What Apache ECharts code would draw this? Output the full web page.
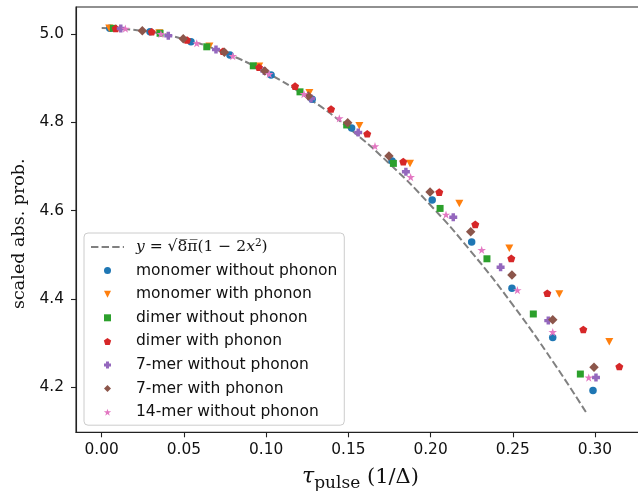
<!DOCTYPE html>
<html><head><meta charset="utf-8">
<script src="https://cdn.jsdelivr.net/npm/echarts@6/dist/echarts.min.js"></script>
<style>html,body{margin:0;padding:0;background:#fff}#c{width:638px;height:491px}</style>
</head><body><div id="c"></div>
<script>
// ---- data ----
const xTicks = [0.00, 0.05, 0.10, 0.15, 0.20, 0.25, 0.30];
const yTicks = [4.2, 4.4, 4.6, 4.8, 5.0];

const fitName = 'y = √8π(1 − 2x²)';
const fitX = [0.000, 0.025, 0.050, 0.075, 0.100, 0.125, 0.150, 0.175, 0.200, 0.225, 0.250, 0.275, 0.295];
const fitY = [5.0133, 5.0070, 4.9882, 4.9569, 4.9130, 4.8566, 4.7877, 4.7062, 4.6122, 4.5057, 4.3866, 4.2550, 4.1407];

const monoNoX = [0.0049, 0.0294, 0.0543, 0.0780, 0.1030, 0.1280, 0.1520, 0.1766, 0.2010, 0.2250, 0.2495, 0.2743, 0.2988];
const monoNoY = [5.0128, 5.0050, 4.9826, 4.9525, 4.9070, 4.8520, 4.7870, 4.7125, 4.6240, 4.5290, 4.4240, 4.3125, 4.1930];

const monoPhX = [0.0046, 0.0350, 0.0655, 0.0958, 0.1263, 0.1567, 0.1875, 0.2175, 0.2479, 0.2783, 0.3087];
const monoPhY = [5.0128, 5.0020, 4.9720, 4.9270, 4.8670, 4.7920, 4.7070, 4.6160, 4.5150, 4.4110, 4.3030];

const dimNoX = [0.0071, 0.0355, 0.0639, 0.0922, 0.1206, 0.1490, 0.1774, 0.2058, 0.2343, 0.2625, 0.2911];
const dimNoY = [5.0128, 5.0016, 4.9710, 4.9280, 4.8690, 4.7940, 4.7070, 4.6050, 4.4910, 4.3660, 4.2300];

const dimPhX = [0.0085, 0.0304, 0.0519, 0.0738, 0.0957, 0.1176, 0.1395, 0.1615, 0.1834, 0.2053, 0.2272, 0.2491, 0.2710, 0.2929, 0.3148];
const dimPhY = [5.0128, 5.0050, 4.9864, 4.9610, 4.9246, 4.8820, 4.8300, 4.7740, 4.7110, 4.6420, 4.5690, 4.4920, 4.4130, 4.3310, 4.2470];

const hepNoX = [0.0116, 0.0405, 0.0695, 0.0989, 0.1273, 0.1560, 0.1850, 0.2138, 0.2426, 0.2716, 0.3006];
const hepNoY = [5.0125, 4.9960, 4.9650, 4.9160, 4.8540, 4.7770, 4.6880, 4.5850, 4.4720, 4.3510, 4.2220];

const hepPhX = [0.0247, 0.0496, 0.0746, 0.0992, 0.1257, 0.1496, 0.1747, 0.1997, 0.2244, 0.2495, 0.2743, 0.2994];
const hepPhY = [5.0075, 4.9890, 4.9586, 4.9160, 4.8596, 4.7990, 4.7240, 4.6420, 4.5520, 4.4540, 4.3530, 4.2454];

const tetNoX = [0.0144, 0.0360, 0.0578, 0.0797, 0.1019, 0.1230, 0.1445, 0.1662, 0.1879, 0.2094, 0.2311, 0.2528, 0.2743, 0.2962];
const tetNoY = [5.0120, 5.0000, 4.9790, 4.9500, 4.9094, 4.8640, 4.8090, 4.7460, 4.6760, 4.5910, 4.5110, 4.4200, 4.3250, 4.2220];

const names = ['monomer without phonon', 'monomer with phonon', 'dimer without phonon', 'dimer with phonon',
  '7-mer without phonon', '7-mer with phonon', '14-mer without phonon'];

// ---- styling ----
const pair = (xs, ys) => xs.map((x, i) => [x, ys[i]]);
const SYM = {
  tri: 'path://M-1000,-1000L1000,-1000L0,1000Z',
  sq: 'path://M-1,-1L1,-1L1,1L-1,1Z',
  pent: 'path://M0,-1000L951,-309L588,809L-588,809L-951,-309Z',
  plus: 'path://M-13,-30L13,-30L13,-13L30,-13L30,13L13,13L13,30L-13,30L-13,13L-30,13L-30,-13L-13,-13Z',
  dia: 'path://M0,-1L1,0L0,1L-1,0Z',
  star: 'path://M0,-1000L224,-309L951,-309L363,118L588,809L0,382L-588,809L-363,118L-951,-309L-224,-309Z'
};
const scatterDefs = [
  [monoNoX, monoNoY, '#1f77b4', 'circle', 7.5],
  [monoPhX, monoPhY, '#ff7f0e', SYM.tri, [8, 7.5]],
  [dimNoX, dimNoY, '#2ca02c', SYM.sq, 7],
  [dimPhX, dimPhY, '#d62728', SYM.pent, [8, 7.6]],
  [hepNoX, hepNoY, '#9467bd', SYM.plus, 8],
  [hepPhX, hepPhY, '#8c564b', SYM.dia, 9.5],
  [tetNoX, tetNoY, '#e377c2', SYM.star, [8.6, 8.2]]
];

const series = [{
  name: fitName, type: 'line', data: pair(fitX, fitY), smooth: true, symbol: 'none', showSymbol: false,
  lineStyle: { color: '#808080', width: 2, type: [7.4, 3.2] }, itemStyle: { color: '#808080' },
  silent: true, animation: false, z: 1
}];
scatterDefs.forEach((d, i) => {
  series.push({
    name: names[i], type: 'scatter', data: pair(d[0], d[1]), symbol: d[3], symbolSize: d[4],
    itemStyle: { color: d[2], opacity: 1 }, silent: true, animation: false, z: 2,
    emphasis: { disabled: true }
  });
});

const chart = echarts.init(document.getElementById('c'), null, { renderer: 'canvas' });
chart.setOption({
  animation: false,
  backgroundColor: '#ffffff',
  grid: { left: 76, top: 7, width: 569, height: 425.3, show: true, borderColor: '#222', borderWidth: 1.1,
    backgroundColor: 'transparent', containLabel: false, outerBoundsMode: 'none' },
  xAxis: {
    type: 'value', min: -0.01563, max: 0.33042,
    axisLine: { show: true, onZero: false, lineStyle: { color: '#222', width: 1.1 } },
    axisTick: { show: true, customValues: xTicks, length: 5, lineStyle: { color: '#222', width: 1.1 } },
    axisLabel: { customValues: xTicks, formatter: v => v.toFixed(2), margin: 10, fontFamily: 'DejaVu Sans', fontSize: 15.4, color: '#111' },
    splitLine: { show: false },
    name: '{t|τ}{s|pulse}{r| (1/Δ)}', nameLocation: 'middle', nameGap: 32,
    nameTextStyle: {
      rich: {
        t: { fontFamily: 'DejaVu Serif', fontStyle: 'italic', fontSize: 22, lineHeight: 24, color: '#111' },
        s: { fontFamily: 'DejaVu Serif', fontSize: 17, lineHeight: 24, padding: [13, 0, 0, 0], color: '#111' },
        r: { fontFamily: 'DejaVu Serif', fontSize: 21, lineHeight: 24, color: '#111' }
      }
    }
  },
  yAxis: {
    type: 'value', min: 4.0981, max: 5.0611,
    axisLine: { show: true, onZero: false, lineStyle: { color: '#222', width: 1.1 } },
    axisTick: { show: true, customValues: yTicks, length: 5, lineStyle: { color: '#222', width: 1.1 } },
    axisLabel: { customValues: yTicks, formatter: v => v.toFixed(1), margin: 12, fontFamily: 'DejaVu Sans', fontSize: 15.4, color: '#111' },
    splitLine: { show: false },
    name: 'scaled abs. prob.', nameLocation: 'middle', nameGap: 45, nameRotate: 90,
    nameTextStyle: { fontFamily: 'DejaVu Serif', fontSize: 17.5, color: '#111', padding: [0, 28, 0, 0] }
  },
  legend: {
    orient: 'vertical', left: 84, top: 233,
    padding: [5, 7, 4, 6], itemGap: 5.6, itemWidth: 33, itemHeight: 7,
    backgroundColor: 'rgba(255,255,255,0.8)', borderColor: '#cccccc', borderWidth: 1, borderRadius: 4,
    selectedMode: false,
    textStyle: {
      fontFamily: 'DejaVu Sans', fontSize: 15.5, color: '#111', lineHeight: 18, padding: [0, 0, 0, 7],
      rich: {
        i: { fontFamily: 'DejaVu Serif', fontStyle: 'italic', fontSize: 15.5, lineHeight: 18, color: '#111' },
        r: { fontFamily: 'DejaVu Serif', fontSize: 15.5, lineHeight: 18, color: '#111' },
        o: { fontFamily: 'DejaVu Serif', fontSize: 15.5, lineHeight: 18, color: '#111' },
        s: { fontFamily: 'DejaVu Serif', fontSize: 10.5, lineHeight: 18, padding: [0, 0, 7, 0], color: '#111' }
      }
    },
    formatter: name => name === fitName ? '{i|y}{r| = √}{o|8̅π̅}{r|(1 − 2}{i|x}{s|2}{r|)}' : name,
    data: [{ name: fitName, itemStyle: { opacity: 0, color: 'rgba(0,0,0,0)', borderWidth: 0 } }].concat(names)
  },
  series: series
});
</script>
</body></html>
